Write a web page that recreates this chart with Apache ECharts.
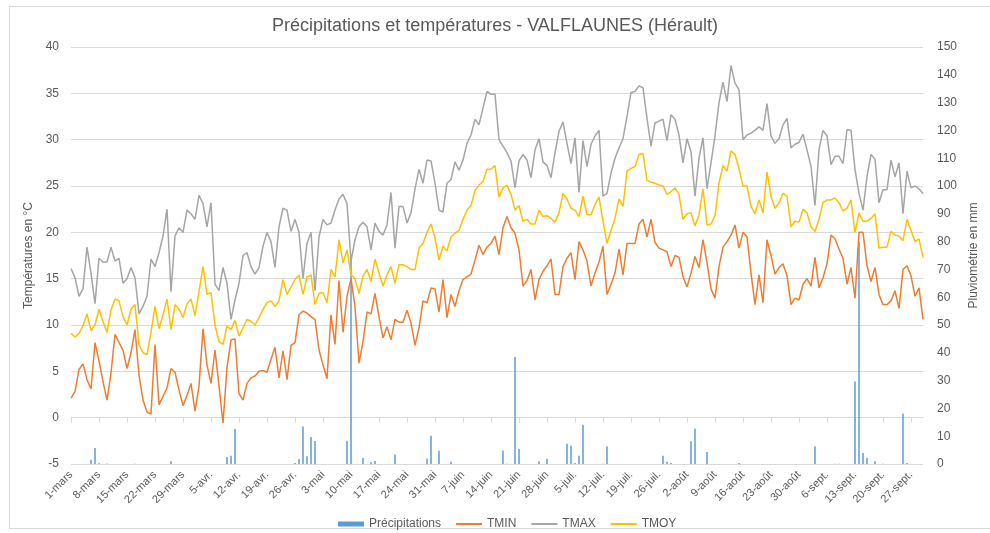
<!DOCTYPE html>
<html>
<head>
<meta charset="utf-8">
<script src="https://cdn.jsdelivr.net/npm/echarts@6/dist/echarts.min.js"></script>
<style>
  html, body { margin: 0; padding: 0; background: #fff; }
  #frame { position: absolute; left: 9px; top: 6px; width: 990px; height: 523px; border: 1px solid #d9d9d9; box-sizing: border-box; }
  #chart { position: absolute; left: 0; top: 0; width: 990px; height: 533px; }
</style>
</head>
<body>
<div id="frame"></div>
<div id="chart"></div>
<script>
// months shown on the date axis (name, number of days)
const months = [["mars", 31], ["avr.", 30], ["mai", 31], ["juin", 30], ["juil.", 31], ["août", 31], ["sept.", 30]];

// daily values, one line per month
const tmin = [
  2.1, 2.8, 5.2, 5.8, 4.1, 3.1, 8.1, 6.1, 3.9, 1.9, 4.8, 9.0, 8.1, 7.3, 5.3, 7.0, 9.5, 4.6, 1.9, 0.6, 0.4, 7.9, 1.4, 2.3, 3.2, 5.3, 4.9, 3.0, 1.3, 2.4, 3.7,
  0.7, 3.4, 9.6, 5.7, 3.7, 7.3, 3.4, -0.6, 5.4, 8.4, 8.5, 2.6, 1.9, 3.7, 4.3, 4.5, 5.0, 5.1, 4.9, 6.3, 7.6, 4.3, 7.2, 4.1, 7.8, 8.1, 11.1, 11.5, 11.3, 10.9,
  10.6, 7.3, 5.7, 4.2, 11.1, 7.9, 14.8, 9.2, 13.1, 15.0, 12.0, 5.9, 8.2, 11.4, 11.2, 13.4, 10.9, 8.6, 9.8, 8.4, 10.6, 10.3, 10.3, 11.6, 10.2, 7.8, 9.7, 12.6, 12.4, 14.0, 13.9,
  11.4, 14.9, 10.8, 13.3, 12.0, 13.7, 14.9, 15.2, 15.5, 17.0, 18.6, 17.6, 18.4, 18.8, 19.6, 17.6, 20.5, 21.7, 20.5, 19.9, 18.1, 14.2, 14.8, 16.0, 12.7, 14.9, 15.8, 16.4, 17.1, 13.3,
  13.3, 16.3, 17.2, 17.8, 14.9, 19.0, 18.1, 16.9, 14.2, 15.6, 16.8, 18.5, 13.3, 14.4, 15.6, 18.2, 15.4, 18.8, 18.8, 18.8, 20.9, 21.4, 19.5, 21.4, 18.9, 18.3, 18.1, 17.9, 16.3, 17.5, 17.3,
  15.2, 14.1, 15.6, 17.4, 16.2, 19.2, 16.7, 13.9, 12.9, 16.3, 18.4, 19.0, 19.7, 20.8, 18.3, 20.0, 19.5, 15.6, 12.2, 15.4, 12.4, 19.2, 17.5, 15.5, 16.2, 16.6, 15.3, 12.2, 12.9, 12.7, 14.4,
  15.0, 14.2, 17.3, 14.0, 15.1, 16.6, 19.7, 19.3, 18.2, 17.2, 14.4, 16.2, 12.9, 20.0, 20.0, 16.4, 14.7, 16.2, 13.3, 12.2, 12.2, 12.6, 13.7, 11.8, 16.0, 16.4, 15.3, 13.1, 14.0, 10.6
];

const tmax = [
  16.1, 15.1, 13.1, 13.9, 18.4, 15.6, 12.3, 17.2, 16.8, 16.8, 18.4, 16.9, 17.2, 14.5, 15.0, 16.2, 15.1, 11.2, 12.0, 13.1, 17.1, 16.3, 17.8, 19.6, 22.5, 13.6, 19.6, 20.5, 20.0, 22.4, 22.0,
  21.4, 24.0, 23.1, 20.6, 23.2, 14.4, 13.7, 16.2, 14.5, 10.6, 12.7, 14.5, 17.5, 17.8, 16.3, 15.5, 16.2, 18.5, 20.0, 19.0, 16.2, 20.6, 22.6, 22.4, 20.1, 21.4, 20.0, 15.0, 18.8, 20.0,
  13.7, 19.5, 21.4, 20.8, 21.0, 22.4, 23.6, 24.1, 23.1, 16.9, 19.2, 20.6, 21.1, 20.6, 18.1, 21.0, 20.1, 19.7, 20.8, 24.3, 18.3, 22.8, 22.8, 21.0, 22.1, 24.7, 26.8, 25.3, 27.8, 27.7, 25.3,
  22.4, 22.2, 25.3, 25.7, 27.6, 26.7, 27.8, 29.6, 30.5, 32.2, 31.6, 33.4, 35.2, 34.9, 34.9, 30.0, 29.3, 28.6, 27.7, 24.8, 27.7, 28.4, 27.8, 25.9, 28.9, 30.1, 27.6, 27.2, 25.9, 28.6,
  30.9, 31.9, 29.6, 27.4, 30.2, 24.3, 29.9, 27.1, 29.5, 30.4, 31.0, 23.9, 24.2, 26.4, 28.0, 29.1, 30.1, 32.5, 35.1, 35.2, 35.8, 35.6, 32.3, 29.3, 31.8, 32.0, 32.2, 29.9, 32.7, 32.2, 30.5,
  27.5, 30.1, 28.7, 23.9, 28.0, 30.2, 24.7, 27.5, 30.4, 34.0, 36.2, 34.1, 38.0, 36.1, 35.4, 30.0, 30.5, 30.7, 31.0, 31.4, 31.0, 33.9, 30.4, 29.6, 30.1, 31.6, 32.3, 29.1, 29.5, 29.7, 30.6,
  28.9, 27.1, 22.9, 28.9, 31.0, 30.4, 27.3, 28.2, 28.2, 27.4, 31.1, 31.0, 26.8, 24.2, 22.4, 26.0, 28.4, 27.9, 23.2, 24.6, 24.6, 27.8, 26.0, 27.5, 22.0, 26.6, 24.8, 25.0, 24.7, 24.2
];

const tmoy = [
  9.1, 8.7, 9.1, 9.9, 11.2, 9.4, 10.0, 11.7, 10.4, 9.2, 11.6, 12.8, 12.6, 10.9, 10.0, 11.7, 12.2, 7.9, 7.0, 6.8, 9.2, 12.0, 9.6, 11.1, 12.8, 9.5, 12.2, 11.7, 10.8, 12.3, 12.8,
  11.0, 13.6, 16.3, 13.3, 13.5, 10.0, 8.2, 7.9, 9.9, 9.5, 10.5, 8.8, 9.7, 10.6, 10.4, 10.0, 10.8, 11.7, 12.4, 12.6, 12.0, 12.6, 14.9, 13.3, 14.1, 14.9, 15.4, 13.3, 15.2, 15.4,
  12.2, 13.4, 13.5, 12.4, 16.0, 15.2, 19.2, 16.7, 18.1, 15.4, 15.0, 13.4, 15.3, 16.0, 14.7, 17.1, 15.6, 14.2, 15.4, 16.3, 14.5, 16.5, 16.5, 16.3, 16.0, 16.0, 18.3, 18.8, 20.0, 20.9, 19.4,
  17.0, 18.5, 18.0, 19.5, 19.9, 20.2, 21.4, 22.4, 22.9, 24.5, 25.1, 25.5, 26.8, 26.8, 27.2, 23.8, 24.8, 25.1, 24.1, 22.4, 22.9, 21.2, 21.4, 20.9, 20.9, 22.4, 21.7, 21.8, 21.5, 21.1,
  22.1, 24.2, 23.6, 22.6, 22.4, 21.7, 23.9, 21.9, 21.9, 23.0, 23.8, 21.2, 18.8, 20.2, 21.5, 23.6, 22.8, 26.6, 26.9, 27.1, 28.4, 28.5, 25.6, 25.4, 25.3, 25.1, 25.0, 24.1, 24.4, 24.8, 24.1,
  21.4, 22.0, 22.1, 20.7, 21.9, 24.7, 20.8, 20.9, 21.8, 25.3, 27.2, 26.6, 28.8, 28.4, 26.9, 25.0, 25.0, 22.8, 22.0, 23.5, 22.1, 26.5, 23.9, 22.6, 23.2, 24.2, 23.9, 20.6, 21.2, 21.1, 22.5,
  22.1, 20.6, 20.1, 21.4, 23.2, 23.5, 23.5, 23.7, 23.2, 22.3, 22.6, 23.5, 20.0, 22.1, 21.2, 21.2, 21.5, 22.0, 18.3, 18.4, 18.4, 20.1, 19.7, 19.6, 19.1, 21.4, 20.2, 19.0, 19.3, 17.3
];

const pluie = [
  0, 0, 0, 0, 0, 1.5, 5.8, 0.3, 0, 0.2, 0, 0, 0, 0, 0, 0, 0.1, 0, 0, 0, 0, 0, 0, 0, 0, 1.0, 0, 0, 0, 0, 0,
  0, 0, 0, 0, 0, 0, 0, 0, 2.5, 3.0, 12.6, 0, 0, 0, 0, 0, 0, 0, 0, 0, 0, 0, 0, 0, 0, 0.4, 1.8, 13.5, 2.8, 9.7,
  8.3, 0, 0, 0, 0, 0, 0, 0, 8.4, 74, 0, 0, 2.2, 0, 0.6, 1.1, 0, 0, 0, 0, 3.4, 0, 0, 0, 0, 0, 0, 0, 2.0, 10.2, 0,
  4.8, 0, 0, 0.8, 0, 0, 0, 0, 0, 0, 0, 0, 0, 0, 0, 0, 4.9, 0.1, 0, 38.5, 5.4, 0, 0, 0, 0, 1.0, 0, 1.9, 0, 0,
  0, 0, 7.3, 6.6, 0.4, 3.0, 14.1, 0, 0, 0, 0, 0.1, 6.4, 0, 0, 0, 0, 0, 0, 0, 0, 0, 0, 0, 0, 0, 3.0, 0.8, 0.4, 0, 0,
  0, 0, 8.2, 12.7, 0, 0, 4.3, 0, 0, 0, 0, 0, 0, 0, 0.4, 0, 0, 0, 0, 0, 0, 0, 0, 0, 0, 0, 0, 0, 0, 0, 0,
  0, 0, 6.4, 0, 0, 0, 0, 0.1, 0.1, 0, 0, 0, 29.7, 80, 4.0, 2.2, 0, 1.0, 0, 0.1, 0, 0, 0, 0, 18.1, 0.4, 0, 0, 0, 0
];

const dates = [];
months.forEach(([m, n]) => {
  for (let d = 1; d <= n; d++) dates.push(d + "-" + m);
});

const grey = "#595959";
const gridCol = "#d9d9d9";
const font = "Liberation Sans, Arial, sans-serif";
const lineIcon = "path://M0 0H26V2H0Z"; // plain line in the legend, no marker

let myChart = echarts.init(document.getElementById("chart"), null, { renderer: "canvas" });

let option = {
  animation: false,
  textStyle: { fontFamily: font },
  title: {
    text: "Précipitations et températures - VALFLAUNES (Hérault)",
    left: "center",
    top: 12,
    textStyle: { fontSize: 18, fontWeight: "normal", color: grey, fontFamily: font }
  },
  legend: {
    top: 513,
    left: 333,
    itemWidth: 26,
    itemHeight: 5,
    itemGap: 15,
    textStyle: { fontSize: 12, color: grey, fontFamily: font },
    data: [
      { name: "Précipitations", icon: "rect" },
      { name: "TMIN", icon: lineIcon },
      { name: "TMAX", icon: lineIcon },
      { name: "TMOY", icon: lineIcon }
    ]
  },
  grid: { left: 71, right: 67, top: 47, bottom: 69 },
  xAxis: [
    {
      type: "category",
      data: dates,
      boundaryGap: false,
      axisLine: { show: false, onZero: false },
      axisTick: { show: false },
      axisLabel: { interval: 6, rotate: 45, fontSize: 11, color: grey, margin: 9 }
    },
    {
      // axis line crossing at 0 °C, like in the spreadsheet
      type: "category",
      data: dates,
      boundaryGap: false,
      position: "bottom",
      axisLine: { show: true, onZero: true, onZeroAxisIndex: 0, lineStyle: { color: gridCol } },
      axisTick: { show: true, interval: 6, length: 5, lineStyle: { color: gridCol } },
      axisLabel: { show: false }
    }
  ],
  yAxis: [
    {
      type: "value",
      min: -5,
      max: 40,
      interval: 5,
      name: "Températures en °C",
      nameLocation: "middle",
      nameRotate: 90,
      nameGap: 29,
      nameTextStyle: { fontSize: 12, color: grey },
      axisLabel: { fontSize: 12, color: grey, margin: 12 },
      splitLine: { lineStyle: { color: gridCol } }
    },
    {
      type: "value",
      min: 0,
      max: 150,
      interval: 10,
      name: "Pluviométrie en mm",
      nameLocation: "middle",
      nameRotate: 90,
      nameGap: 41,
      nameTextStyle: { fontSize: 12, color: grey },
      axisLabel: { fontSize: 12, color: grey, margin: 14 },
      splitLine: { show: false }
    }
  ],
  series: [
    {
      name: "Précipitations",
      type: "bar",
      xAxisIndex: 0,
      yAxisIndex: 1,
      barWidth: 1.5,
      itemStyle: { color: "#5b9bd5" },
      data: pluie
    },
    {
      name: "TMIN",
      type: "line",
      xAxisIndex: 0,
      yAxisIndex: 0,
      symbol: "none",
      lineStyle: { width: 1.5, color: "#ed7d31" },
      itemStyle: { color: "#ed7d31" },
      data: tmin
    },
    {
      name: "TMAX",
      type: "line",
      xAxisIndex: 0,
      yAxisIndex: 0,
      symbol: "none",
      lineStyle: { width: 1.5, color: "#a5a5a5" },
      itemStyle: { color: "#a5a5a5" },
      data: tmax
    },
    {
      name: "TMOY",
      type: "line",
      xAxisIndex: 0,
      yAxisIndex: 0,
      symbol: "none",
      lineStyle: { width: 1.5, color: "#ffc000" },
      itemStyle: { color: "#ffc000" },
      data: tmoy
    }
  ]
};

myChart.setOption(option);
</script>
</body>
</html>
